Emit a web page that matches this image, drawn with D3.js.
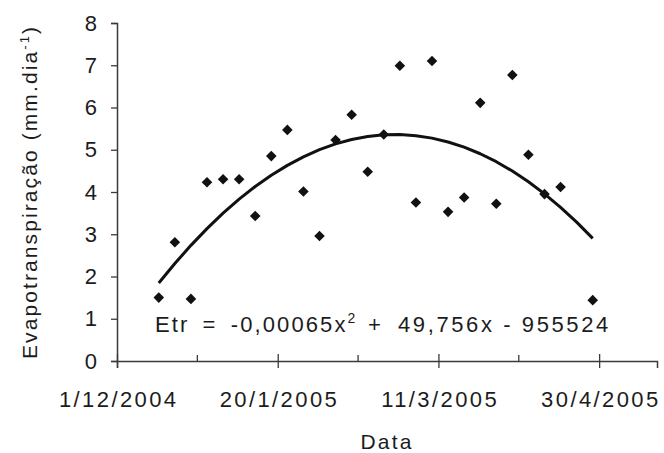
<!DOCTYPE html>
<html>
<head>
<meta charset="utf-8">
<script src="https://cdn.jsdelivr.net/npm/d3@7"></script>
<style>
  body { margin: 0; background: #fff; }
  svg { display: block; }
  text { font-family: "Liberation Sans", Arial, sans-serif; fill: #1c1c1c; }
</style>
</head>
<body>
<div id="chart"></div>
<script>
// observation dates and daily evapotranspiration (mm/day)
const dates = [
  "2004-12-14", "2004-12-19", "2004-12-24", "2004-12-29", "2005-01-03",
  "2005-01-08", "2005-01-13", "2005-01-18", "2005-01-23", "2005-01-28",
  "2005-02-02", "2005-02-07", "2005-02-12", "2005-02-17", "2005-02-22",
  "2005-02-27", "2005-03-04", "2005-03-09", "2005-03-14", "2005-03-19",
  "2005-03-24", "2005-03-29", "2005-04-03", "2005-04-08", "2005-04-13",
  "2005-04-18", "2005-04-28"
];
const etr = [
  1.50, 2.81, 1.47, 4.23, 4.30, 4.30, 3.43, 4.85, 5.47, 4.01,
  2.96, 5.23, 5.83, 4.48, 5.36, 6.99, 3.75, 7.10, 3.53, 3.87,
  6.11, 3.72, 6.77, 4.88, 3.95, 4.12, 1.44
];
const xDomain = ["2004-12-01", "2005-05-18"];
const majorTicks = ["2004-12-01", "2005-01-20", "2005-03-11", "2005-04-30"];
const minorTicks = ["2004-12-26", "2005-02-14", "2005-04-05"];
const yTicks = [0, 1, 2, 3, 4, 5, 6, 7, 8];

const width = 664;
const height = 453;
const margin = { top: 23, right: 7, bottom: 92, left: 117 };

const parse = d3.utcParse("%Y-%m-%d");
const fmt = (d) => `${d.getUTCDate()}/${d.getUTCMonth() + 1}/${d.getUTCFullYear()}`;

const data = dates.map((d, i) => ({ date: parse(d), v: etr[i] }));

const x = d3.scaleUtc()
  .domain(xDomain.map(parse))
  .range([margin.left, width - margin.right]);
const y = d3.scaleLinear()
  .domain([0, 8])
  .range([height - margin.bottom, margin.top]);

// quadratic least-squares trend, like the spreadsheet trendline
const day = (d) => (d - parse(xDomain[0])) / 864e5;
const polyFit = (pts) => {
  const s = [0, 0, 0, 0, 0], t = [0, 0, 0];
  pts.forEach(([px, py]) => {
    for (let k = 0; k < 5; k++) s[k] += Math.pow(px, k);
    for (let k = 0; k < 3; k++) t[k] += py * Math.pow(px, k);
  });
  const A = [
    [s[0], s[1], s[2], t[0]],
    [s[1], s[2], s[3], t[1]],
    [s[2], s[3], s[4], t[2]]
  ];
  for (let i = 0; i < 3; i++) {
    for (let j = i + 1; j < 3; j++) {
      const f = A[j][i] / A[i][i];
      for (let k = i; k < 4; k++) A[j][k] -= f * A[i][k];
    }
  }
  const c = [0, 0, 0];
  for (let i = 2; i >= 0; i--) {
    let sum = A[i][3];
    for (let k = i + 1; k < 3; k++) sum -= A[i][k] * c[k];
    c[i] = sum / A[i][i];
  }
  return c;
};
const coef = polyFit(data.map((d) => [day(d.date), d.v]));
const d0 = day(data[0].date), d1 = day(data[data.length - 1].date);
// excel draws the trend as a coarse polyline
const trend = d3.range(d0, d1 + 0.01, 5).map((t) => ({
  date: new Date(parse(xDomain[0]).getTime() + t * 864e5),
  v: coef[0] + coef[1] * t + coef[2] * t * t
}));

const svg = d3.select("#chart")
  .append("svg")
  .attr("width", width)
  .attr("height", height);

// y axis
const yAxis = svg.append("g")
  .attr("transform", `translate(${margin.left},0)`)
  .call(d3.axisLeft(y).tickValues(yTicks).tickSize(6).tickPadding(14));
yAxis.selectAll("text").style("font-size", "22px");

// x axis: majors cross the line, minors sit above it
const xAxis = svg.append("g")
  .attr("transform", `translate(0,${y(0)})`)
  .call(d3.axisBottom(x).tickValues(majorTicks.map(parse)).tickFormat(fmt).tickSize(7).tickPadding(23));
xAxis.selectAll(".tick line").attr("y1", -7);
xAxis.selectAll("text")
  .style("font-size", "22px")
  .style("letter-spacing", "2.4px")
  .attr("dx", "1.2px");
xAxis.selectAll(".minor")
  .data(minorTicks.map(parse))
  .join("line")
  .attr("class", "minor")
  .attr("x1", (d) => x(d)).attr("x2", (d) => x(d))
  .attr("y1", -6).attr("y2", 0);

svg.selectAll(".domain").attr("stroke", "#3a3a3a").attr("stroke-width", 1.5);
svg.selectAll(".tick line, .minor").attr("stroke", "#3a3a3a").attr("stroke-width", 1.3);
svg.selectAll(".tick text").attr("fill", "#1c1c1c").attr("font-family", null);

// trendline
svg.append("path")
  .datum(trend)
  .attr("fill", "none")
  .attr("stroke", "#111")
  .attr("stroke-width", 3)
  .attr("stroke-linejoin", "round")
  .attr("d", d3.line().x((d) => x(d.date)).y((d) => y(d.v)));

// points
svg.append("g")
  .selectAll("path")
  .data(data)
  .join("path")
  .attr("transform", (d) => `translate(${x(d.date)},${y(d.v)}) rotate(45)`)
  .attr("d", d3.symbol().type(d3.symbolSquare).size(56))
  .attr("fill", "#111");

// equation
const eq = svg.append("text")
  .attr("y", 332)
  .style("font-size", "22px")
  .style("letter-spacing", "2.1px");
eq.append("tspan").attr("x", 155).style("word-spacing", "5px").text("Etr = -0,00065x");
eq.append("tspan").attr("dy", -9).style("font-size", "14px").text("2");
eq.append("tspan").attr("x", 368).attr("dy", 9).text("+");
eq.append("tspan").attr("x", 398).style("letter-spacing", "2.6px").text("49,756x - 955524");

// axis titles
svg.append("text")
  .attr("x", (margin.left + width - margin.right) / 2)
  .attr("y", 449)
  .attr("text-anchor", "middle")
  .style("font-size", "21px")
  .style("letter-spacing", "2.2px")
  .text("Data");

const yt = svg.append("text")
  .attr("transform", "translate(37,192) rotate(-90)")
  .attr("text-anchor", "middle")
  .style("font-size", "21px")
  .style("letter-spacing", "2.1px")
  .style("white-space", "pre");
yt.append("tspan").text("Evapotranspiração (mm.dia");
yt.append("tspan").attr("dy", -8).style("font-size", "13px").text("-1");
yt.append("tspan").attr("dy", 8).text(")");
</script>
</body>
</html>
